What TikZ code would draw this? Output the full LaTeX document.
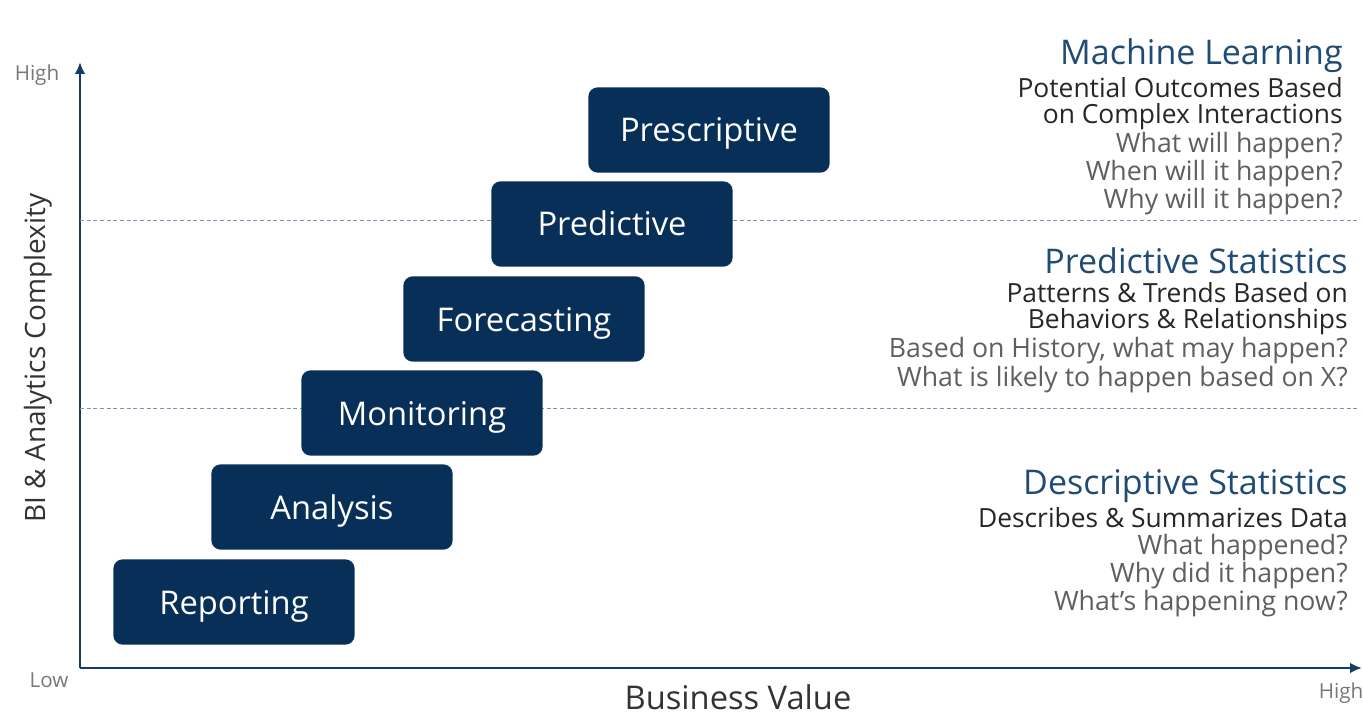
\documentclass[tikz,border=0pt]{standalone}
\usepackage{fontspec}
\setmainfont{Open Sans}
\usetikzlibrary{arrows.meta, positioning}
\definecolor{navy}{RGB}{8,47,88}
\definecolor{axisblue}{RGB}{20,62,104}
\definecolor{titleblue}{RGB}{31,75,116}
\definecolor{qgray}{RGB}{95,95,95}
\definecolor{lowgray}{RGB}{120,120,120}
\definecolor{dashblue}{RGB}{120,150,180}

\tikzset{
  stagebox/.style={fill=navy, rounded corners=7pt, minimum width=181pt, minimum height=64pt,
    text=white, font=\fontsize{24.5}{28}\selectfont, inner sep=0pt,
    text height=20pt, text depth=2pt},
  grouptitle/.style={anchor=east, text=titleblue, font=\fontsize{25.5}{28}\selectfont, inner sep=0pt},
  groupline/.style={anchor=east, text=black!85, font=\fontsize{19.8}{22}\selectfont, inner sep=0pt},
  question/.style={anchor=east, text=qgray, font=\fontsize{20}{22}\selectfont, inner sep=0pt},
  levelmark/.style={text=lowgray, font=\fontsize{15.5}{18}\selectfont, inner sep=0pt},
  axislabel/.style={text=black!80, font=\fontsize{24.5}{28}\selectfont, inner sep=0pt},
  levelline/.style={dashblue, line width=0.6pt, dash pattern=on 3pt off 2pt}
}

\begin{document}
\begin{tikzpicture}[x=0.75pt, y=-0.75pt]
  \useasboundingbox (0,0) rectangle (1363,727);
  % axes
  \coordinate (origin) at (80,668);
  \coordinate (ytip) at (80,62);
  \coordinate (xtip) at (1362,668);
  \draw[axisblue, line width=2pt, -{Latex[length=9pt,width=8pt]}] (origin) -- (ytip);
  \draw[axisblue, line width=2pt, -{Latex[length=9pt,width=8pt]}] (origin) -- (xtip);
  \node[levelmark] (yhigh) at (37,75) {High};
  \node[levelmark] (ylow) at (49,680) {Low};
  \node[levelmark] (xhigh) at (1341,693) {High};
  \node[axislabel, font=\fontsize{21}{24}\selectfont, rotate=90] (ylabel) at (38,358) {BI \& Analytics Complexity};
  \node[axislabel] (xlabel) at (738,697) {Business Value};
  % dashed level lines
  \coordinate (upperL) at (80,220);
  \coordinate (upperR) at (1360,220);
  \coordinate (lowerL) at (80,408);
  \coordinate (lowerR) at (1360,408);
  \draw[levelline] (upperL) -- (upperR);
  \draw[levelline] (lowerL) -- (lowerR);
  % stages
  \node[stagebox] (reporting) at (234,602) {Reporting};
  \node[stagebox] (analysis) at (332,507) {Analysis};
  \node[stagebox] (monitoring) at (422,413) {Monitoring};
  \node[stagebox] (forecasting) at (524,319) {Forecasting};
  \node[stagebox] (predictive) at (612,224) {Predictive};
  \node[stagebox] (prescriptive) at (709,130) {Prescriptive};
  % machine learning
  \node[grouptitle] (mltitle) at (1343,56) {Machine Learning};
  \node[groupline] (mlone) at (1343,88) {Potential Outcomes Based};
  \node[groupline] (mltwo) at (1343,117) {on Complex Interactions};
  \node[question] (mlq1) at (1343,146) {What will happen?};
  \node[question] (mlq2) at (1343,174) {When will it happen?};
  \node[question] (mlq3) at (1343,202) {Why will it happen?};
  % predictive statistics
  \node[grouptitle] (pstitle) at (1348,261) {Predictive Statistics};
  \node[groupline] (psone) at (1348,293) {Patterns \& Trends Based on};
  \node[groupline] (pstwo) at (1348,322) {Behaviors \& Relationships};
  \node[question] (psq1) at (1348,351) {Based on History, what may happen?};
  \node[question] (psq2) at (1348,380) {What is likely to happen based on X?};
  % descriptive statistics
  \node[grouptitle] (dstitle) at (1348,486) {Descriptive Statistics};
  \node[groupline] (dsone) at (1348,518) {Describes \& Summarizes Data};
  \node[question] (dsq1) at (1348,548) {What happened?};
  \node[question] (dsq2) at (1348,576) {Why did it happen?};
  \node[question] (dsq3) at (1348,604) {What’s happening now?};
\end{tikzpicture}
\end{document}
